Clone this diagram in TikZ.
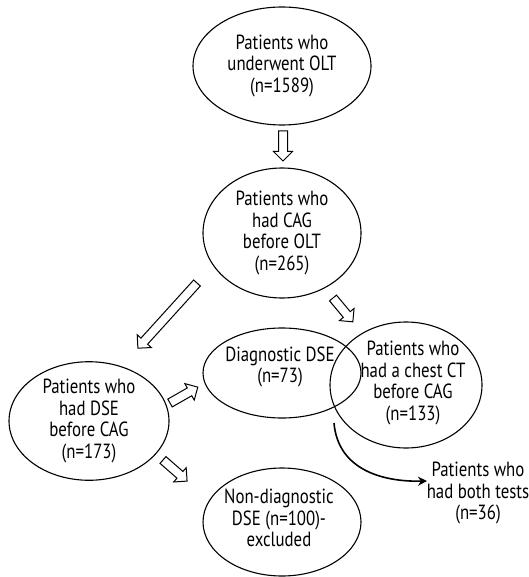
\documentclass[tikz,border=0pt]{standalone}
\usepackage{fontspec}
\setmainfont{PT Sans}[FakeStretch=0.82]
\usetikzlibrary{shapes.geometric,arrows.meta}
\begin{document}
\begin{tikzpicture}[x=1pt,y=-1pt,
  txt/.style={align=center,inner sep=0pt,font=\fontsize{20.5}{21.6}\selectfont},
  oval/.style={ellipse,draw,line width=1.1pt,inner sep=0pt,txt},
  curved/.style={line width=1.6pt,-{Stealth[length=9pt,width=9pt]}},
  pics/harr/.style={code={
    \draw[line width=1pt,fill=white] (0,-4.5) -- (#1-9.5,-4.5) -- (#1-9.5,-9.5) -- (#1,0)
      -- (#1-9.5,9.5) -- (#1-9.5,4.5) -- (0,4.5) -- cycle;}}]
\useasboundingbox (0,0) rectangle (528,577);
\node[oval,minimum width=178pt,minimum height=118pt] (olt) at (282,66) {Patients who\\underwent OLT\\(n=1589)};
\node[oval,minimum width=158pt,minimum height=130pt] (cag) at (282,233) {Patients who\\had CAG\\before OLT\\(n=265)};
\node[oval,minimum width=158pt,minimum height=90pt] (diag) at (282,373) {};
\node[txt] (diagt) at (280,367) {Diagnostic DSE\\(n=73)};
\node[oval,minimum width=152pt,minimum height=126pt] (ct) at (406,385) {};
\node[txt] (ctt) at (413,383) {Patients who\\had a chest CT\\before CAG\\(n=133)};
\node[oval,minimum width=160pt,minimum height=114pt] (dse) at (89,421) {Patients who\\had DSE\\before CAG\\(n=173)};
\node[oval,minimum width=158pt,minimum height=108pt] (nond) at (282,522) {};
\node[txt] (nondt) at (279,518) {Non-diagnostic\\DSE (n=100)-\\excluded};
\node[txt] (both) at (478,493) {Patients who\\had both tests\\(n=36)};
\pic[rotate=-90] (a1) at (283,131) {harr=30};
\pic[rotate=-132.2] (a2) at (197,283) {harr=88};
\pic[rotate=-50.2] (a3) at (333,298) {harr=31};
\pic[rotate=29.7] (a4) at (170,403) {harr=32};
\pic[rotate=-41.2] (a5) at (163,460) {harr=32};
\coordinate (ix) at (334,423);
\coordinate (tip) at (427,481);
\draw[curved] (ix) .. controls (338,470) and (383,482) .. (tip);
\end{tikzpicture}
\end{document}
